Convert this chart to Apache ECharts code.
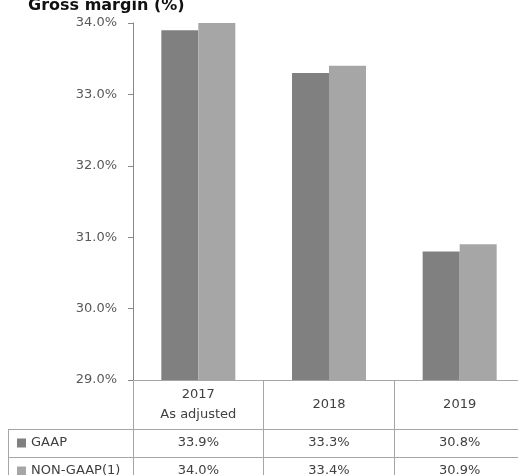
<!DOCTYPE html>
<html>
<head>
<meta charset="utf-8">
<script src="https://cdn.jsdelivr.net/npm/echarts@6/dist/echarts.min.js"></script>
<style>
  html, body { margin: 0; padding: 0; background: #fff; }
  #chart { width: 518px; height: 475px; }
</style>
</head>
<body>
<div id="chart"></div>
<script>
// Gross margin by year, GAAP vs non-GAAP
const categories = ['2017\nAs adjusted', '2018', '2019'];
const seriesNames = ['GAAP', 'NON-GAAP(1)'];
const gaapValues = [33.9, 33.3, 30.8];
const nonGaapValues = [34.0, 33.4, 30.9];
const yMin = 29, yMax = 34, yStep = 1;

const FONT = 'DejaVu Sans';
const LINE = '#a6a6a6';
const TEXT = '#404040';
const BAR_COLORS = ['#808080', '#a6a6a6'];
const pct = v => v.toFixed(1) + '%';

const chart = echarts.init(document.getElementById('chart'), null, { renderer: 'canvas' });

// Rows of the data table under the plot, each an extra category axis
function tableAxis(values, offset) {
  return {
    type: 'category',
    position: 'bottom',
    offset: offset,
    data: values.map(pct),
    axisLine: { show: true, lineStyle: { color: LINE, width: 1 } },
    axisTick: { show: false },
    axisLabel: {
      margin: 14, verticalAlign: 'middle',
      fontFamily: FONT, fontSize: 13, color: TEXT
    }
  };
}

// One legend per table row so each key sits in its own row
function rowLegend(name, top) {
  return {
    orient: 'vertical',
    left: 17, top: top,
    padding: 0,
    itemWidth: 9, itemHeight: 9,
    icon: 'rect',
    selectedMode: false,
    data: [name],
    textStyle: { fontFamily: FONT, fontSize: 13, color: TEXT, lineHeight: 14 }
  };
}

chart.setOption({
  animation: false,
  title: {
    text: 'Gross margin (%)',
    left: 23, top: -7,
    textStyle: { fontFamily: FONT, fontSize: 16, fontWeight: 'bold', color: '#111' }
  },
  legend: [rowLegend(seriesNames[0], 436), rowLegend(seriesNames[1], 464)],
  grid: {
    left: 133, top: 23, width: 392, height: 357,
    containLabel: false, outerBoundsMode: 'none'
  },
  xAxis: [
    {
      type: 'category',
      data: categories,
      axisLine: { show: true, lineStyle: { color: LINE, width: 1 } },
      axisTick: { show: true, length: 100, lineStyle: { color: LINE, width: 1 } },
      axisLabel: {
        margin: 25, verticalAlign: 'middle', lineHeight: 20,
        fontFamily: FONT, fontSize: 13, color: TEXT
      }
    },
    tableAxis(gaapValues, 49),
    tableAxis(nonGaapValues, 77)
  ],
  yAxis: {
    type: 'value',
    min: yMin, max: yMax, interval: yStep,
    axisLine: { show: true, lineStyle: { color: '#888', width: 1 } },
    axisTick: { show: true, length: 5, lineStyle: { color: '#888' } },
    splitLine: { show: false },
    axisLabel: {
      margin: 16, formatter: v => pct(v),
      fontFamily: FONT, fontSize: 13, color: '#595959'
    }
  },
  series: [
    {
      name: seriesNames[0], type: 'bar', data: gaapValues,
      barWidth: 37, barGap: '0%',
      itemStyle: { color: BAR_COLORS[0] }
    },
    {
      name: seriesNames[1], type: 'bar', data: nonGaapValues,
      barWidth: 37, barGap: '0%',
      itemStyle: { color: BAR_COLORS[1] }
    }
  ],
  graphic: [
    // borders of the row-label cells left of the plot
    { type: 'line', shape: { x1: 8, y1: 429.5, x2: 133, y2: 429.5 }, style: { stroke: LINE, lineWidth: 1 } },
    { type: 'line', shape: { x1: 8, y1: 457.5, x2: 133, y2: 457.5 }, style: { stroke: LINE, lineWidth: 1 } },
    { type: 'line', shape: { x1: 8.5, y1: 429, x2: 8.5, y2: 480 }, style: { stroke: LINE, lineWidth: 1 } }
  ]
});
</script>
</body>
</html>
